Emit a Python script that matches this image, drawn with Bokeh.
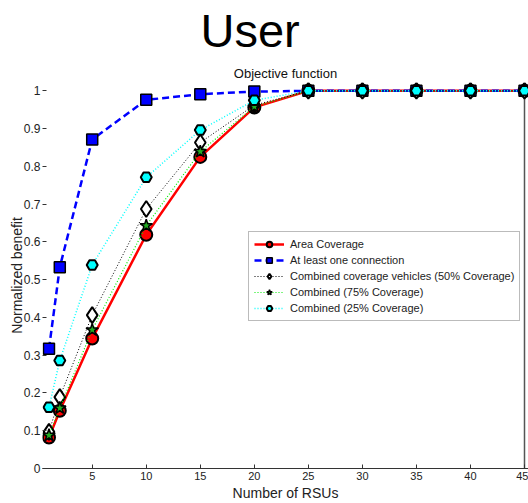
from bokeh.plotting import figure
from bokeh.models import Title, FixedTicker, Range1d, Legend, LegendItem
from bokeh.embed import file_html
from bokeh.resources import INLINE

rsus = [1, 2, 5, 10, 15, 20, 25, 30, 35, 40, 45]
area_coverage = [0.082, 0.153, 0.344, 0.619, 0.825, 0.956, 1, 1, 1, 1, 1]
at_least_one = [0.317, 0.533, 0.871, 0.976, 0.991, 0.998, 1, 1, 1, 1, 1]
combined_50 = [0.097, 0.189, 0.406, 0.687, 0.863, 0.962, 1, 1, 1, 1, 1]
combined_75 = [0.088, 0.160, 0.367, 0.643, 0.839, 0.958, 1, 1, 1, 1, 1]
combined_25 = [0.162, 0.286, 0.539, 0.771, 0.896, 0.975, 1, 1, 1, 1, 1]

x_ticks = [5, 10, 15, 20, 25, 30, 35, 40, 45]
y_ticks = [0, 0.1, 0.2, 0.3, 0.4, 0.5, 0.6, 0.7, 0.8, 0.9, 1]
y_tick_labels = ["0", "0.1", "0.2", "0.3", "0.4", "0.5", "0.6", "0.7", "0.8", "0.9", "1"]

FONT = "Liberation Sans"

p = figure(width=528, height=503, output_backend="svg", toolbar_location=None,
           x_range=Range1d(0.4, 45.37), y_range=Range1d(0, 1.022),
           min_border_left=42, min_border_right=0, min_border_top=0, min_border_bottom=0)
p.outline_line_color = None
p.grid.grid_line_color = None
p.background_fill_color = "white"
p.border_fill_color = "white"

p.title.text = "User"
p.title.align = "left"
p.title.offset = 158
p.title.text_font = FONT
p.title.text_font_size = "47px"
p.title.text_font_style = "normal"
p.title.text_color = "black"
p.title.vertical_align = "top"
p.title.standoff = 7
sub = Title(text="Objective function", align="center", text_font=FONT,
            text_font_size="13px", text_font_style="normal", text_color="#111111",
            standoff=3)
p.add_layout(sub, "above")

xa = p.xaxis[0]
xa.ticker = FixedTicker(ticks=x_ticks)
xa.axis_label = "Number of RSUs"
ya = p.yaxis[0]
ya.ticker = FixedTicker(ticks=y_ticks)
ya.major_label_overrides = {t: l for t, l in zip(y_ticks, y_tick_labels)}
ya.axis_label = "Normalized benefit"
ya.axis_line_color = None
for ax in (xa, ya):
    ax.major_label_text_font = FONT
    ax.major_label_text_font_size = "11px"
    ax.major_label_text_color = "#222222"
    ax.axis_label_text_font = FONT
    ax.axis_label_text_font_size = "14px"
    ax.axis_label_text_font_style = "normal"
    ax.axis_label_text_color = "#222222"
    ax.major_tick_in = 4
    ax.major_tick_out = 0
    ax.minor_tick_line_color = None
    ax.major_tick_line_color = "#333333"
    ax.major_label_standoff = 3
    ax.axis_label_standoff = 2
xa.axis_line_color = "#333333"
ya.major_label_text_font_size = "12px"
ya.major_label_standoff = 2
ya.axis_label_standoff = -4

# right box edge
p.segment(x0=[rsus[-1]], y0=[y_ticks[0]], x1=[rsus[-1]], y1=[y_ticks[-1]],
          line_color="#555555", line_width=1.5)

items = []
r1l = p.line(rsus, area_coverage, line_color="red", line_width=2.5)
r1m = p.scatter(rsus, area_coverage, marker="circle", size=12, fill_color="red",
                line_color="black", line_width=2)
items.append(LegendItem(label="Area Coverage", renderers=[r1l, r1m]))

r2l = p.line(rsus, at_least_one, line_color="blue", line_width=2.5, line_dash="7 4")
r2m = p.scatter(rsus, at_least_one, marker="square", size=11, fill_color="blue",
                line_color="black", line_width=1.5)
items.append(LegendItem(label="At least one connection", renderers=[r2l, r2m]))

r3l = p.line(rsus, combined_50, line_color="black", line_width=1, line_dash="1 2")
r3m = p.scatter(rsus, combined_50, marker="diamond", size=16, fill_color="white",
                line_color="black", line_width=2)
items.append(LegendItem(label="Combined coverage vehicles (50% Coverage)", renderers=[r3l, r3m]))

r4l = p.line(rsus, combined_75, line_color="#00ee00", line_width=1.2, line_dash="1 2")
r4m = p.scatter(rsus, combined_75, marker="star", size=13, fill_color="#22aa22",
                line_color="black", line_width=1.5)
items.append(LegendItem(label="Combined (75% Coverage)", renderers=[r4l, r4m]))

r5l = p.line(rsus, combined_25, line_color="cyan", line_width=1.5, line_dash="1 2")
r5m = p.scatter(rsus, combined_25, marker="hex", size=11, fill_color="cyan",
                line_color="black", line_width=2)
items.append(LegendItem(label="Combined (25% Coverage)", renderers=[r5l, r5m]))

legend = Legend(items=items, location=(206, 147))
legend.label_text_font = FONT
legend.label_text_font_size = "11px"
legend.label_text_color = "#222222"
legend.label_height = 14
legend.glyph_height = 14
legend.glyph_width = 30
legend.spacing = 2
legend.padding = 5
legend.margin = 0
legend.label_standoff = 6
legend.border_line_color = "#777777"
legend.border_line_width = 1
legend.background_fill_alpha = 1
p.add_layout(legend, "center")

open("out.html", "w").write(file_html(p, INLINE))
